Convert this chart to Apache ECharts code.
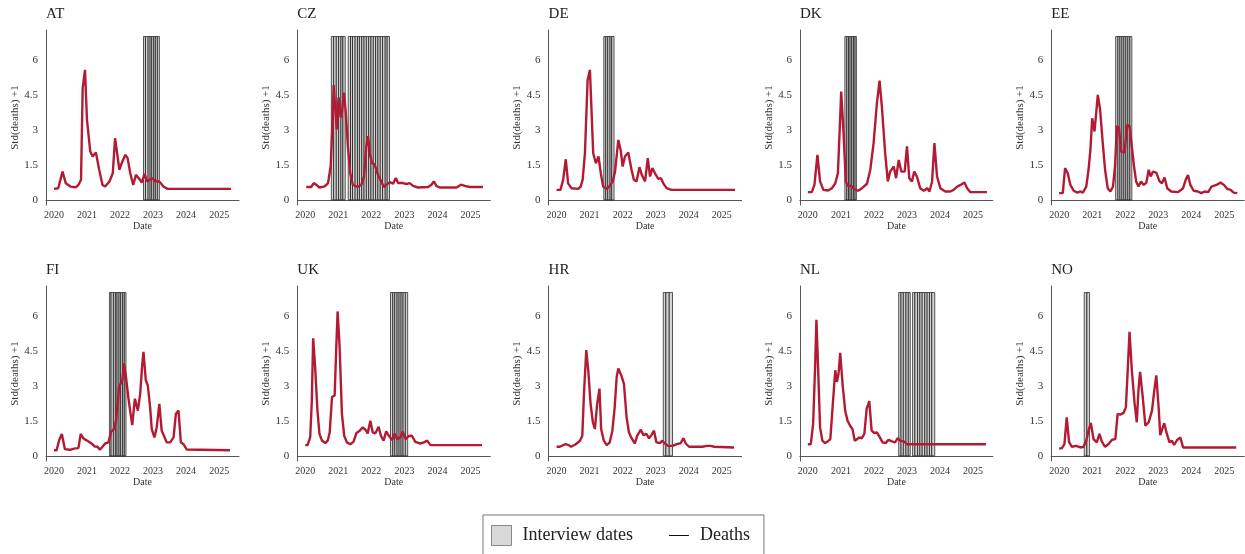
<!DOCTYPE html>
<html>
<head>
<meta charset="utf-8">
<script src="https://cdn.jsdelivr.net/npm/echarts@6/dist/echarts.min.js"></script>
<style>
  html, body { margin: 0; background: #fff; }
  #main { width: 1245px; height: 554px; }
</style>
</head>
<body>
<div id="main"></div>
<script>
const countries = ['AT', 'CZ', 'DE', 'DK', 'EE', 'FI', 'UK', 'HR', 'NL', 'NO'];
const yearTicks = [2020, 2021, 2022, 2023, 2024, 2025];
const valueTicks = [0, 1.5, 3, 4.5, 6];

// [year, std(deaths) + 1]
const deathsAT = [[2020.0,0.47],[2020.13,0.5],[2020.26,1.21],[2020.36,0.71],[2020.5,0.57],[2020.67,0.54],[2020.74,0.64],[2020.82,0.86],[2020.87,4.79],[2020.94,5.57],[2021.0,3.43],[2021.1,2.07],[2021.17,1.86],[2021.27,2.03],[2021.37,1.29],[2021.47,0.64],[2021.55,0.57],[2021.68,0.79],[2021.78,1.14],[2021.85,2.64],[2021.91,2.71],[2021.98,1.29],[2022.05,1.57],[2022.16,1.93],[2022.23,1.79],[2022.31,1.14],[2022.40,0.64],[2022.48,1.07],[2022.59,0.89],[2022.66,0.74],[2022.74,1.11],[2022.82,0.79],[2022.89,0.86],[2022.99,0.93],[2023.06,0.79],[2023.14,0.81],[2023.22,0.74],[2023.31,0.57],[2023.44,0.47],[2025.36,0.47]];
const deathsCZ = [[2020.03,0.55],[2020.18,0.55],[2020.26,0.72],[2020.33,0.65],[2020.43,0.53],[2020.59,0.58],[2020.69,0.72],[2020.77,1.44],[2020.82,3.17],[2020.86,4.92],[2020.91,3.88],[2020.95,3.02],[2021.01,4.39],[2021.07,3.53],[2021.11,3.74],[2021.17,4.6],[2021.22,3.88],[2021.29,2.3],[2021.36,1.15],[2021.44,0.65],[2021.58,0.55],[2021.70,0.65],[2021.78,1.01],[2021.85,2.3],[2021.90,2.73],[2021.96,1.94],[2022.02,1.58],[2022.10,1.51],[2022.20,1.08],[2022.30,0.79],[2022.38,0.55],[2022.45,0.65],[2022.56,0.76],[2022.66,0.69],[2022.74,0.94],[2022.81,0.72],[2022.96,0.72],[2023.06,0.68],[2023.16,0.72],[2023.26,0.6],[2023.41,0.53],[2023.72,0.55],[2023.82,0.65],[2023.89,0.79],[2023.97,0.6],[2024.07,0.53],[2024.58,0.53],[2024.71,0.65],[2024.83,0.6],[2024.98,0.55],[2025.38,0.55]];
const deathsDE = [[2020.0,0.43],[2020.12,0.43],[2020.20,0.86],[2020.28,1.74],[2020.35,0.71],[2020.45,0.5],[2020.66,0.47],[2020.73,0.57],[2020.79,0.86],[2020.86,2.0],[2020.94,5.14],[2021.01,5.57],[2021.11,2.0],[2021.19,1.57],[2021.27,1.86],[2021.34,1.14],[2021.41,0.57],[2021.52,0.47],[2021.62,0.61],[2021.70,0.79],[2021.77,1.21],[2021.87,2.57],[2021.94,2.14],[2022.0,1.43],[2022.07,1.86],[2022.17,2.03],[2022.27,1.29],[2022.34,0.86],[2022.42,0.79],[2022.51,1.4],[2022.58,1.07],[2022.68,0.79],[2022.76,1.79],[2022.83,1.0],[2022.90,1.36],[2022.98,1.14],[2023.08,0.9],[2023.16,0.93],[2023.23,0.71],[2023.33,0.5],[2023.48,0.43],[2025.40,0.43]];
const deathsDK = [[2020.0,0.33],[2020.12,0.33],[2020.20,0.64],[2020.29,1.93],[2020.37,0.79],[2020.47,0.43],[2020.61,0.4],[2020.73,0.5],[2020.83,0.71],[2020.91,1.14],[2020.96,2.86],[2021.01,4.64],[2021.08,2.86],[2021.15,0.79],[2021.21,0.6],[2021.31,0.6],[2021.41,0.46],[2021.52,0.39],[2021.64,0.5],[2021.79,0.69],[2021.89,1.29],[2021.99,2.43],[2022.09,4.14],[2022.17,5.11],[2022.24,4.0],[2022.34,2.0],[2022.42,0.79],[2022.49,1.21],[2022.60,1.43],[2022.67,0.93],[2022.75,1.71],[2022.83,1.21],[2022.93,1.21],[2023.0,2.29],[2023.07,0.93],[2023.15,0.79],[2023.22,1.21],[2023.30,1.0],[2023.40,0.5],[2023.51,0.39],[2023.61,0.5],[2023.68,0.36],[2023.76,0.79],[2023.83,2.43],[2023.91,1.0],[2024.01,0.5],[2024.16,0.36],[2024.31,0.36],[2024.41,0.43],[2024.52,0.57],[2024.62,0.64],[2024.74,0.74],[2024.82,0.5],[2024.92,0.33],[2025.42,0.33]];
const deathsEE = [[2020.0,0.29],[2020.11,0.29],[2020.18,1.36],[2020.26,1.14],[2020.34,0.64],[2020.44,0.39],[2020.55,0.31],[2020.65,0.36],[2020.72,0.31],[2020.82,0.57],[2020.89,1.29],[2020.95,2.21],[2021.0,3.5],[2021.07,2.93],[2021.12,3.71],[2021.17,4.5],[2021.24,3.86],[2021.32,2.43],[2021.39,1.29],[2021.47,0.5],[2021.55,0.36],[2021.63,0.57],[2021.69,1.43],[2021.75,3.17],[2021.81,3.07],[2021.88,2.07],[2021.98,2.03],[2022.06,3.21],[2022.13,3.17],[2022.20,2.29],[2022.26,1.5],[2022.33,0.79],[2022.40,0.57],[2022.48,0.79],[2022.56,0.64],[2022.64,0.74],[2022.71,1.29],[2022.77,1.0],[2022.84,1.21],[2022.94,1.17],[2023.04,0.79],[2023.11,0.71],[2023.19,0.96],[2023.27,0.5],[2023.39,0.36],[2023.60,0.33],[2023.75,0.5],[2023.83,0.86],[2023.90,1.07],[2023.97,0.64],[2024.07,0.39],[2024.20,0.36],[2024.30,0.29],[2024.40,0.36],[2024.51,0.33],[2024.61,0.57],[2024.76,0.64],[2024.88,0.74],[2024.99,0.64],[2025.09,0.47],[2025.19,0.43],[2025.28,0.31],[2025.39,0.29]];
const deathsFI = [[2020.0,0.24],[2020.08,0.24],[2020.16,0.68],[2020.24,0.94],[2020.33,0.29],[2020.48,0.26],[2020.64,0.32],[2020.74,0.33],[2020.81,0.94],[2020.89,0.75],[2021.01,0.65],[2021.14,0.53],[2021.24,0.4],[2021.32,0.39],[2021.39,0.26],[2021.47,0.39],[2021.55,0.53],[2021.65,0.58],[2021.73,1.04],[2021.80,1.11],[2021.87,1.44],[2021.92,2.09],[2021.97,2.95],[2022.03,3.02],[2022.07,3.24],[2022.12,3.96],[2022.18,3.38],[2022.25,2.52],[2022.32,1.8],[2022.37,1.32],[2022.45,2.45],[2022.54,1.94],[2022.61,2.66],[2022.67,3.88],[2022.71,4.46],[2022.78,3.24],[2022.84,3.02],[2022.91,2.09],[2022.96,1.15],[2023.04,0.79],[2023.11,1.22],[2023.19,2.23],[2023.26,1.08],[2023.33,0.86],[2023.41,0.58],[2023.52,0.58],[2023.62,0.79],[2023.69,1.8],[2023.77,1.94],[2023.84,0.58],[2023.92,0.5],[2024.02,0.27],[2025.33,0.24]];
const deathsUK = [[2020.0,0.46],[2020.07,0.46],[2020.15,0.79],[2020.2,2.37],[2020.24,5.04],[2020.30,3.81],[2020.37,1.94],[2020.43,0.94],[2020.51,0.65],[2020.61,0.55],[2020.68,0.65],[2020.74,1.0],[2020.81,2.52],[2020.89,2.59],[2020.94,4.68],[2020.98,6.19],[2021.04,4.68],[2021.11,1.8],[2021.18,0.86],[2021.26,0.58],[2021.36,0.5],[2021.46,0.6],[2021.55,0.98],[2021.65,1.08],[2021.74,1.22],[2021.82,1.12],[2021.89,0.96],[2021.97,1.51],[2022.04,1.01],[2022.12,0.96],[2022.22,1.25],[2022.29,0.86],[2022.37,0.65],[2022.45,1.05],[2022.53,0.86],[2022.63,0.68],[2022.71,0.96],[2022.78,0.72],[2022.88,0.79],[2022.95,1.04],[2023.03,0.72],[2023.13,0.85],[2023.23,0.86],[2023.33,0.6],[2023.48,0.53],[2023.59,0.58],[2023.69,0.65],[2023.79,0.46],[2025.35,0.46]];
const deathsHR = [[2020.0,0.39],[2020.1,0.39],[2020.27,0.5],[2020.37,0.46],[2020.44,0.39],[2020.58,0.5],[2020.71,0.65],[2020.78,0.86],[2020.83,2.66],[2020.90,4.53],[2020.96,3.67],[2021.03,2.23],[2021.10,1.44],[2021.16,1.15],[2021.23,2.23],[2021.30,2.88],[2021.35,1.15],[2021.43,0.65],[2021.52,0.46],[2021.61,0.58],[2021.69,1.08],[2021.76,2.09],[2021.82,3.38],[2021.87,3.74],[2021.96,3.45],[2022.04,3.09],[2022.12,1.65],[2022.19,1.01],[2022.27,0.76],[2022.37,0.53],[2022.44,0.86],[2022.55,1.12],[2022.63,0.89],[2022.72,0.94],[2022.80,0.75],[2022.88,0.91],[2022.95,1.08],[2023.02,0.58],[2023.13,0.55],[2023.20,0.65],[2023.28,0.53],[2023.37,0.43],[2023.51,0.43],[2023.64,0.5],[2023.76,0.55],[2023.84,0.76],[2023.91,0.53],[2024.01,0.39],[2024.41,0.39],[2024.55,0.43],[2024.67,0.43],[2024.77,0.39],[2025.37,0.36]];
const deathsNL = [[2020.0,0.5],[2020.09,0.5],[2020.16,1.37],[2020.22,3.81],[2020.26,5.83],[2020.31,3.81],[2020.37,1.22],[2020.44,0.65],[2020.52,0.55],[2020.60,0.62],[2020.68,0.72],[2020.75,2.09],[2020.83,3.67],[2020.88,3.17],[2020.93,3.53],[2020.98,4.42],[2021.05,3.09],[2021.13,1.94],[2021.20,1.51],[2021.28,1.29],[2021.35,1.15],[2021.42,0.65],[2021.48,0.6],[2021.56,0.79],[2021.63,0.75],[2021.71,0.94],[2021.78,2.01],[2021.86,2.35],[2021.93,1.08],[2022.01,0.98],[2022.09,1.01],[2022.18,0.79],[2022.26,0.58],[2022.36,0.55],[2022.44,0.69],[2022.54,0.62],[2022.64,0.58],[2022.72,0.76],[2022.79,0.65],[2022.90,0.62],[2023.0,0.5],[2025.39,0.5]];
const deathsNO = [[2020.0,0.32],[2020.08,0.32],[2020.16,0.5],[2020.23,1.65],[2020.30,0.6],[2020.38,0.39],[2020.52,0.43],[2020.64,0.36],[2020.74,0.39],[2020.82,0.65],[2020.89,1.08],[2020.96,1.41],[2021.04,0.72],[2021.14,0.58],[2021.22,0.94],[2021.29,0.62],[2021.39,0.39],[2021.49,0.5],[2021.60,0.69],[2021.70,0.72],[2021.77,1.8],[2021.85,1.77],[2021.95,1.84],[2022.02,2.09],[2022.08,3.81],[2022.13,5.32],[2022.20,3.67],[2022.28,2.3],[2022.35,1.44],[2022.40,2.81],[2022.45,3.6],[2022.53,2.52],[2022.61,1.29],[2022.71,1.44],[2022.81,1.94],[2022.88,2.81],[2022.94,3.45],[2023.01,2.09],[2023.06,0.89],[2023.11,0.82],[2023.18,1.4],[2023.26,0.94],[2023.34,0.58],[2023.41,0.65],[2023.48,0.47],[2023.57,0.68],[2023.67,0.79],[2023.75,0.36],[2025.36,0.36]];

// interview windows: boundaries of consecutive interview periods (year)
const interviewsAT = [[2022.71,2022.77,2022.85,2022.91,2022.96,2023.02,2023.07,2023.13,2023.19]];
const interviewsCZ = [[2020.79,2020.86,2020.94,2021.01,2021.08,2021.14,2021.21],
  [2021.30,2021.37,2021.43,2021.51,2021.58,2021.64,2021.71,2021.78,2021.85,2021.92,2021.99,2022.06,2022.13,2022.20,2022.27,2022.34,2022.42,2022.48,2022.55]];
const interviewsDE = [[2021.43,2021.49,2021.55,2021.62,2021.67,2021.74]];
const interviewsDK = [[2021.12,2021.18,2021.23,2021.28,2021.33,2021.38,2021.43,2021.47]];
const interviewsEE = [[2021.71,2021.78,2021.84,2021.90,2021.96,2022.02,2022.08,2022.14,2022.20]];
const interviewsFI = [[2021.68,2021.73,2021.80,2021.86,2021.91,2021.97,2022.02,2022.08,2022.13,2022.18]];
const interviewsUK = [[2022.58,2022.65,2022.71,2022.78,2022.84,2022.90,2022.96,2023.03,2023.10]];
const interviewsHR = [[2023.23,2023.31,2023.41,2023.51]];
const interviewsNL = [[2022.75,2022.82,2022.89,2022.97,2023.04,2023.10],
  [2023.17,2023.24,2023.32,2023.39,2023.46,2023.54,2023.61,2023.68,2023.75,2023.84]];
const interviewsNO = [[2020.76,2020.84,2020.92]];

const deaths = [deathsAT, deathsCZ, deathsDE, deathsDK, deathsEE, deathsFI, deathsUK, deathsHR, deathsNL, deathsNO];
const interviews = [interviewsAT, interviewsCZ, interviewsDE, interviewsDK, interviewsEE, interviewsFI, interviewsUK, interviewsHR, interviewsNL, interviewsNO];
const barTop = 7;

const serif = 'Liberation Serif';
const axisGrey = '#555';
const red = '#b31b34';

const chart = echarts.init(document.getElementById('main'));

const grids = [], xAxes = [], yAxes = [], titles = [], series = [];

countries.forEach(function (name, i) {
  const row = Math.floor(i / 5), col = i % 5;
  const left = 46 + 251.3 * col;
  const top = row ? 286 : 30;
  grids.push({ left: left, top: top, width: 193, height: 175 });
  titles.push({
    text: name, left: left, top: row ? 263 : 7, padding: 0,
    textStyle: { fontFamily: serif, fontSize: 15, fontWeight: 'normal', color: '#222' }
  });
  xAxes.push({
    type: 'value', gridIndex: i, min: 2019.76, max: 2025.6,
    name: 'Date', nameLocation: 'middle', nameGap: 16,
    nameTextStyle: { fontFamily: serif, fontSize: 10, color: '#333' },
    axisLine: { lineStyle: { color: axisGrey, width: 1 } },
    axisTick: { show: false },
    splitLine: { show: false },
    axisLabel: {
      customValues: yearTicks, margin: 5, fontFamily: serif, fontSize: 10, color: '#333',
      formatter: function (v) { return String(v); }
    }
  });
  yAxes.push({
    type: 'value', gridIndex: i, min: -0.22, max: 7.28,
    name: 'Std(deaths) +1', nameLocation: 'middle', nameGap: 22, nameRotate: 90,
    nameTextStyle: { fontFamily: serif, fontSize: 11, color: '#333' },
    axisLine: { show: true, lineStyle: { color: axisGrey, width: 1 } },
    axisTick: { show: false },
    splitLine: { show: false },
    axisLabel: { customValues: valueTicks, margin: 8, fontFamily: serif, fontSize: 11, color: '#333' }
  });

  const rects = [];
  interviews[i].forEach(function (block) {
    for (let k = 1; k < block.length; k++) rects.push([block[k - 1], block[k]]);
  });
  series.push({
    name: 'Interview dates', type: 'custom', xAxisIndex: i, yAxisIndex: i,
    itemStyle: { color: '#d6d6d6', borderColor: '#000', borderWidth: 0.6 },
    encode: { x: [0, 1] },
    data: rects,
    renderItem: function (params, api) {
      const p0 = api.coord([api.value(0), 0]);
      const p1 = api.coord([api.value(1), barTop]);
      return {
        type: 'rect',
        shape: { x: p0[0], y: p1[1], width: p1[0] - p0[0], height: p0[1] - p1[1] },
        style: { fill: '#d4d4d4', stroke: '#000', lineWidth: 0.65 }
      };
    },
    z: 1
  });
  series.push({
    name: 'Deaths', type: 'line', xAxisIndex: i, yAxisIndex: i,
    data: deaths[i], showSymbol: false, symbol: 'none',
    lineStyle: { color: red, width: 2.4 }, itemStyle: { color: red },
    z: 3
  });
});

const option = {
  animation: false,
  backgroundColor: '#fff',
  title: titles,
  grid: grids,
  xAxis: xAxes,
  yAxis: yAxes,
  legend: {
    left: 483, top: 515,
    padding: [10, 14, 12, 8],
    itemWidth: 20, itemHeight: 20, itemGap: 36,
    borderColor: '#777', borderWidth: 1,
    selectedMode: false,
    textStyle: { fontFamily: serif, fontSize: 18, color: '#222', padding: [0, 0, 0, 6] },
    data: [
      { name: 'Interview dates', icon: 'rect', itemStyle: { color: '#d9d9d9', borderColor: '#888', borderWidth: 1 } },
      { name: 'Deaths', icon: 'path://M0,0 L20,0 L20,1 L0,1 Z', itemStyle: { color: '#111', borderWidth: 0 } }
    ]
  },
  series: series
};

chart.setOption(option);
</script>
</body>
</html>
